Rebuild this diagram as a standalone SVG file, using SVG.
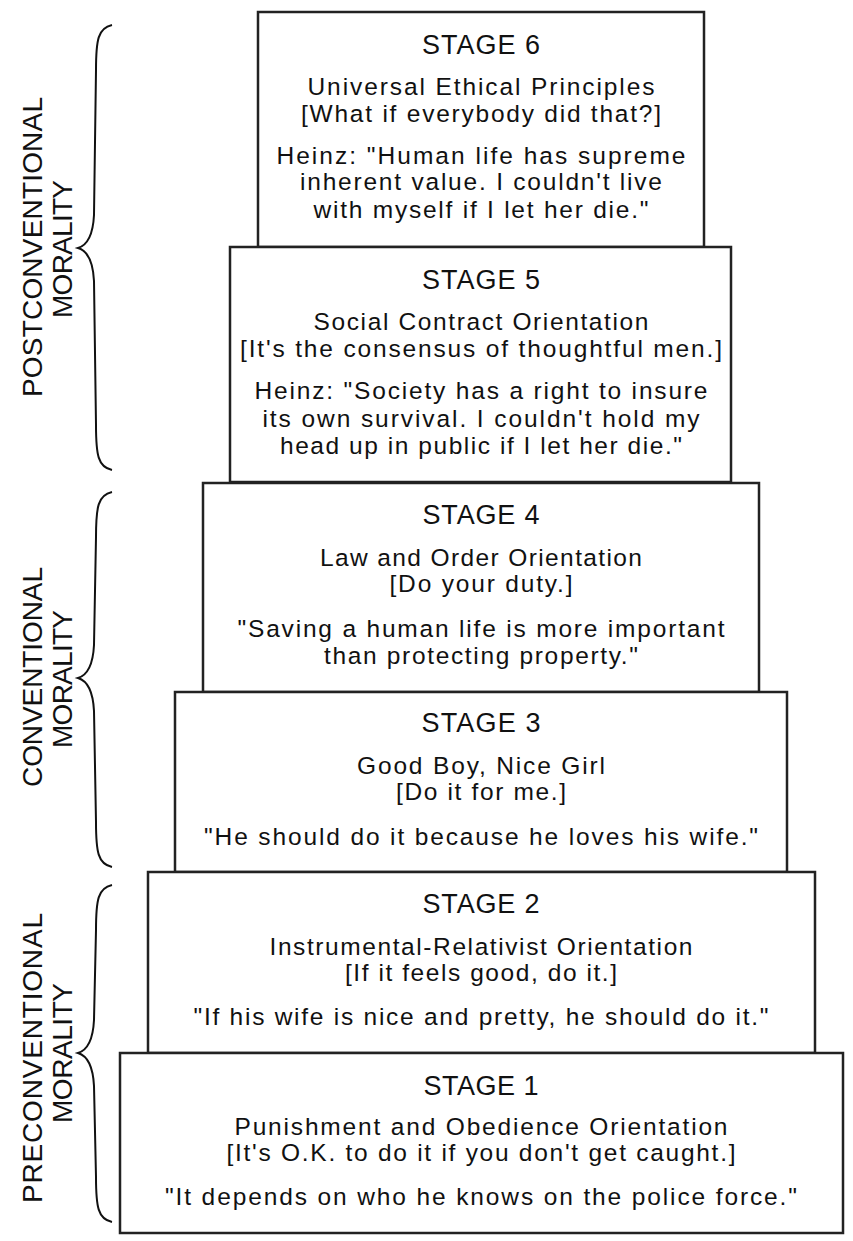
<svg xmlns="http://www.w3.org/2000/svg" width="853" height="1241" viewBox="0 0 853 1241">
<style>
.box{fill:#fff;stroke:#222;stroke-width:2.5}
.t{font-family:"Liberation Sans",Arial,Helvetica,sans-serif;font-size:24.5px;text-anchor:middle;fill:#111}
.h{font-size:27px}
.side{font-family:"Liberation Sans",Arial,Helvetica,sans-serif;font-size:28px;text-anchor:middle;fill:#111}
.brace{fill:none;stroke:#111;stroke-width:2}
</style>
<rect width="853" height="1241" fill="#fff"/>
<g id="braces">
<path class="brace" d="M112,25 C98,28 96,40 96,70 L94,215 C93,235 88,245 78,248 C88,251 93,261 94,281 L96,425 C96,455 98,467 112,470"/>
<path class="brace" d="M112,492 C98,495 96,507 96,537 L94,645 C93,665 88,675 78,678 C88,681 93,691 94,711 L96,822 C96,852 98,864 112,867"/>
<path class="brace" d="M112,885 C98,888 96,900 96,930 L94,1020 C93,1040 88,1050 78,1053 C88,1056 93,1066 94,1086 L96,1177 C96,1207 98,1219 112,1222"/>
</g>
<g id="label-post">
<text class="side" transform="translate(42,247) rotate(-90)" textLength="300">POSTCONVENTIONAL</text>
<text class="side" transform="translate(72,249) rotate(-90)" textLength="138">MORALITY</text>
</g>
<g id="label-conv">
<text class="side" transform="translate(42,677) rotate(-90)" textLength="220">CONVENTIONAL</text>
<text class="side" transform="translate(72,679) rotate(-90)" textLength="138">MORALITY</text>
</g>
<g id="label-pre">
<text class="side" transform="translate(42,1058) rotate(-90)" textLength="290">PRECONVENTIONAL</text>
<text class="side" transform="translate(72,1053) rotate(-90)" textLength="140">MORALITY</text>
</g>
<g id="stage6">
<rect class="box" x="258" y="12" width="446" height="235"/>
<text class="t h" x="481" y="54" textLength="118">STAGE 6</text>
<text class="t" x="481" y="95" textLength="347">Universal Ethical Principles</text>
<text class="t" x="481" y="122" textLength="360">[What if everybody did that?]</text>
<text class="t" x="481" y="164" textLength="409">Heinz: "Human life has supreme</text>
<text class="t" x="481" y="190" textLength="362">inherent value. I couldn't live</text>
<text class="t" x="481" y="218" textLength="335">with myself if I let her die."</text>
</g>
<g id="stage5">
<rect class="box" x="230" y="247" width="501" height="235"/>
<text class="t h" x="481" y="289" textLength="118">STAGE 5</text>
<text class="t" x="481" y="330" textLength="335">Social Contract Orientation</text>
<text class="t" x="481" y="357" textLength="482">[It's the consensus of thoughtful men.]</text>
<text class="t" x="481" y="399" textLength="453">Heinz: "Society has a right to insure</text>
<text class="t" x="481" y="427" textLength="437">its own survival. I couldn't hold my</text>
<text class="t" x="481" y="454" textLength="402">head up in public if I let her die."</text>
</g>
<g id="stage4">
<rect class="box" x="203" y="483" width="556" height="209"/>
<text class="t h" x="481" y="524" textLength="117">STAGE 4</text>
<text class="t" x="481" y="566" textLength="322">Law and Order Orientation</text>
<text class="t" x="481" y="592" textLength="183">[Do your duty.]</text>
<text class="t" x="481" y="637" textLength="487">"Saving a human life is more important</text>
<text class="t" x="481" y="664" textLength="314">than protecting property."</text>
</g>
<g id="stage3">
<rect class="box" x="175" y="692" width="612" height="180"/>
<text class="t h" x="481" y="732" textLength="119">STAGE 3</text>
<text class="t" x="481" y="774" textLength="248">Good Boy, Nice Girl</text>
<text class="t" x="481" y="800" textLength="170">[Do it for me.]</text>
<text class="t" x="481" y="845" textLength="554">"He should do it because he loves his wife."</text>
</g>
<g id="stage2">
<rect class="box" x="148" y="872" width="667" height="181"/>
<text class="t h" x="481" y="913" textLength="117">STAGE 2</text>
<text class="t" x="481" y="955" textLength="423">Instrumental-Relativist Orientation</text>
<text class="t" x="481" y="981" textLength="272">[If it feels good, do it.]</text>
<text class="t" x="481" y="1025" textLength="575">"If his wife is nice and pretty, he should do it."</text>
</g>
<g id="stage1">
<rect class="box" x="120" y="1053" width="723" height="180"/>
<text class="t h" x="481" y="1095" textLength="115">STAGE 1</text>
<text class="t" x="481" y="1135" textLength="493">Punishment and Obedience Orientation</text>
<text class="t" x="481" y="1161" textLength="509">[It's O.K. to do it if you don't get caught.]</text>
<text class="t" x="481" y="1205" textLength="632">"It depends on who he knows on the police force."</text>
</g>
</svg>
